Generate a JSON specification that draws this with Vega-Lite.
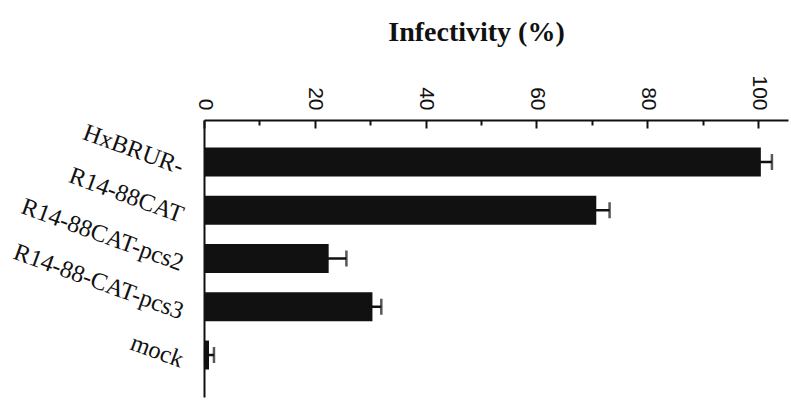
{
  "$schema": "https://vega.github.io/schema/vega-lite/v6.json",
  "width": 584,
  "height": 277,
  "autosize": "none",
  "padding": {"left": 204, "top": 120, "right": 3, "bottom": 6},
  "background": "white",
  "config": {"view": {"stroke": null}},
  "data": {
    "values": [
      {"construct": "HxBRUR-", "infectivity": 100.5, "low": 98.4, "high": 102.5},
      {"construct": "R14-88CAT", "infectivity": 70.8, "low": 68.4, "high": 73.2},
      {"construct": "R14-88CAT-pcs2", "infectivity": 22.5, "low": 19.3, "high": 25.7},
      {"construct": "R14-88-CAT-pcs3", "infectivity": 30.4, "low": 28.8, "high": 32.0},
      {"construct": "mock", "infectivity": 0.9, "low": 0.2, "high": 1.8}
    ]
  },
  "resolve": {"axis": {"x": "independent"}},
  "layer": [
    {
      "mark": {"type": "bar", "color": "#111111"},
      "encoding": {
        "y": {
          "field": "construct",
          "type": "nominal",
          "sort": null,
          "scale": {"paddingInner": 0.4, "paddingOuter": 0.57},
          "axis": {
            "title": null,
            "ticks": false,
            "domainColor": "#111111",
            "domainWidth": 2,
            "labelFont": "Liberation Serif",
            "labelFontSize": 24.5,
            "labelColor": "#111111",
            "labelAngle": 20,
            "labelAlign": "right",
            "labelBaseline": "middle",
            "labelPadding": 22,
            "labelOffset": 6,
            "labelLimit": 0
          }
        },
        "x": {
          "field": "infectivity",
          "type": "quantitative",
          "scale": {"domain": [0, 105.4], "nice": false, "zero": true},
          "axis": {
            "orient": "top",
            "values": [0, 20, 40, 60, 80, 100],
            "grid": false,
            "domainColor": "#111111",
            "domainWidth": 2,
            "tickColor": "#111111",
            "tickWidth": 2,
            "tickSize": -8,
            "labelAngle": 90,
            "labelAlign": "right",
            "labelBaseline": "middle",
            "labelFont": "Liberation Sans",
            "labelFontSize": 21,
            "labelColor": "#111111",
            "labelPadding": 18,
            "labelFlush": false,
            "labelOverlap": false,
            "title": "Infectivity (%)",
            "titleFont": "Liberation Serif",
            "titleFontWeight": "bold",
            "titleFontSize": 28,
            "titleColor": "#111111",
            "titleX": 272,
            "titleY": -88,
            "titleAngle": 0,
            "titleAlign": "center",
            "titleBaseline": "middle"
          }
        }
      }
    },
    {
      "mark": {"type": "rule", "color": "#111111", "strokeWidth": 2.5},
      "encoding": {
        "y": {"field": "construct", "type": "nominal", "sort": null},
        "x": {
          "field": "low",
          "type": "quantitative",
          "axis": {
            "orient": "top",
            "values": [10, 30, 50, 70, 90],
            "labels": false,
            "domain": false,
            "grid": false,
            "tickColor": "#111111",
            "tickWidth": 2,
            "tickSize": -5,
            "title": null
          }
        },
        "x2": {"field": "high"}
      }
    },
    {
      "mark": {"type": "tick", "orient": "vertical", "color": "#111111", "size": 16, "thickness": 2.5},
      "encoding": {
        "y": {"field": "construct", "type": "nominal", "sort": null},
        "x": {"field": "high", "type": "quantitative", "axis": null}
      }
    },
    {
      "mark": {"type": "tick", "orient": "vertical", "color": "#111111", "size": 16, "thickness": 2.5},
      "encoding": {
        "y": {"field": "construct", "type": "nominal", "sort": null},
        "x": {"field": "low", "type": "quantitative", "axis": null}
      }
    }
  ]
}
